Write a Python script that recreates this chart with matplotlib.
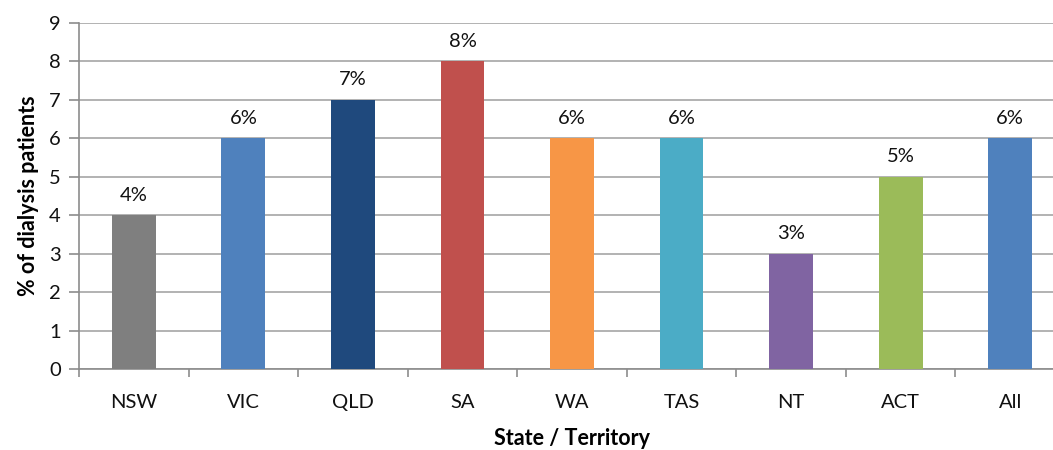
import matplotlib.pyplot as plt
import numpy as np

states = ['NSW', 'VIC', 'QLD', 'SA', 'WA', 'TAS', 'NT', 'ACT', 'All']
values = [4, 6, 7, 8, 6, 6, 3, 5, 6]
labels = ['4%', '6%', '7%', '8%', '6%', '6%', '3%', '5%', '6%']
colors = ['#7F7F7F', '#4F81BD', '#1F497D', '#C0504D', '#F79646',
          '#4BACC6', '#8064A2', '#9BBB59', '#4F81BD']

plt.rcParams['font.family'] = ['Lato', 'DejaVu Sans']

fig = plt.figure(figsize=(10.53, 4.5), dpi=100)
ax = fig.add_axes([79 / 1053, 1 - 369 / 450, (1065 - 79) / 1053, (369 - 23) / 450])

x = np.arange(len(states))
ax.bar(x, values, width=0.4, color=colors, zorder=3)
for xi, v, lab in zip(x, values, labels):
    ax.text(xi, v + 0.3, lab, ha='center', va='bottom', fontsize=14.5, color='#111111')

ax.set_xlim(-0.5, len(states) - 0.5)
ax.set_ylim(0, 9)
ax.set_yticks(range(10))
ax.yaxis.grid(True, color='#A6A6A6', linewidth=1.2, zorder=0)
ax.set_xticks(x)
ax.set_xticklabels(states, fontsize=14.5, color='#111111')
ax.set_xticks(np.arange(-0.5, len(states), 1.0), minor=True)
ax.tick_params(axis='x', which='major', length=0, pad=18)
ax.tick_params(axis='x', which='minor', length=6, color='#8C8C8C', width=1.2)
ax.tick_params(axis='y', length=7, color='#8C8C8C', width=1.2, labelsize=14.5,
               labelcolor='#111111', pad=6)

for side in ['top', 'right']:
    ax.spines[side].set_visible(False)
for side in ['left', 'bottom']:
    ax.spines[side].set_color('#8C8C8C')
    ax.spines[side].set_linewidth(1.2)

ax.set_ylabel('% of dialysis patients', fontsize=15.5, fontweight='bold', labelpad=7)
ax.set_xlabel('State / Territory', fontsize=15.5, fontweight='bold', labelpad=12)

fig.savefig('out.png', dpi=100)
